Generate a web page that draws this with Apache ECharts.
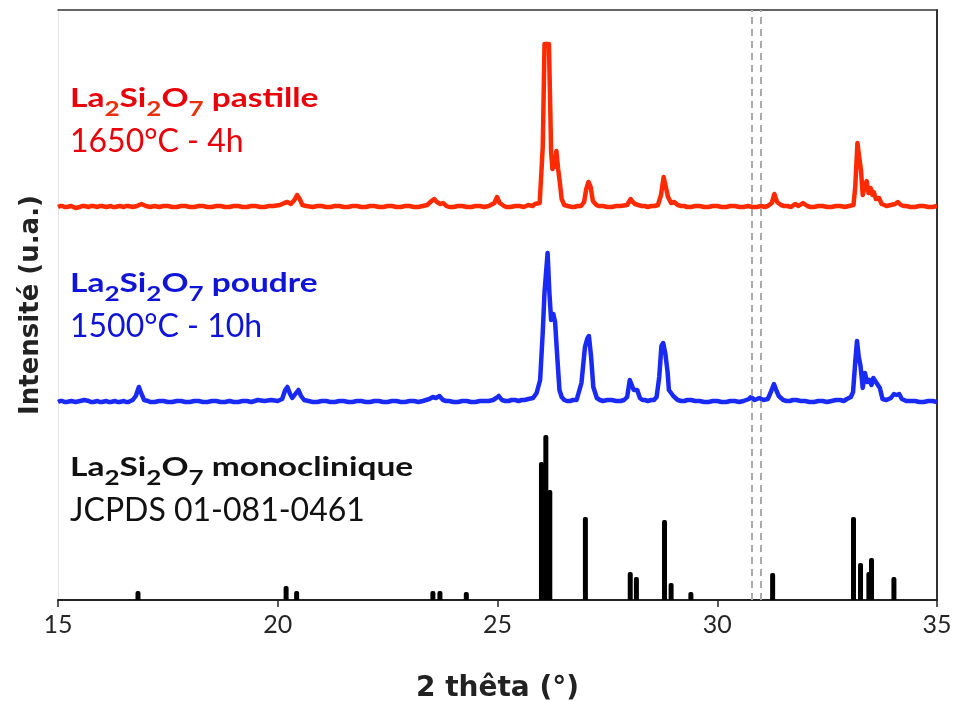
<!DOCTYPE html>
<html><head><meta charset="utf-8">
<script src="https://cdn.jsdelivr.net/npm/echarts@6/dist/echarts.min.js"></script>
<style>html,body{margin:0;padding:0;background:#fff}#c{width:956px;height:701px}</style>
</head><body><div id="c"></div>
<script>
// 2θ range
const xMin = 15, xMax = 35, xStep = 5;
// vertical offsets of the stacked patterns (a.u.)
const offsetPastille = 393;
const offsetPoudre = 198;
const yMax = 590;
// dashed reference positions (2θ)
const dashedLines = [30.79, 31.0];

// La2Si2O7 pastille 1650°C - 4h  [2θ, relative intensity]
const pastille = [
[15.0,0],[15.05,1],[15.1,1],[15.15,0],[15.2,0],[15.3,1],[15.35,0],[15.4,-1],[15.5,0],[15.55,1],[15.6,1],[15.7,0],[15.75,1],[15.8,1],[15.9,0],[15.95,1],[16.0,1],[16.1,0],[16.2,1],[16.25,0],[16.3,0],[16.4,1],[16.5,0],[16.55,1],[16.6,1],[16.7,0],[16.8,1],[16.9,3],[17.0,1],[17.1,0],[17.2,1],[17.3,0],[17.4,1],[17.5,1],[17.6,0],[17.7,0],[17.8,1],[17.9,1],[18.0,0],[18.1,0],[18.2,1],[18.3,1],[18.4,0],[18.5,0],[18.6,1],[18.7,1],[18.8,0],[18.9,0],[19.0,1],[19.1,1],[19.2,0],[19.3,0],[19.4,1],[19.5,1],[19.6,0],[19.7,0],[19.8,1],[19.9,1],
[20.05,2],[20.15,4],[20.22,5],[20.3,3],[20.38,7],[20.44,12],[20.5,8],[20.56,2],[20.65,1],[20.8,0],[20.9,1],[21.0,1],[21.1,0],[21.2,0],[21.3,1],[21.4,1],[21.5,0],[21.6,0],[21.7,1],[21.8,1],[21.9,0],[22.0,0],[22.1,1],[22.2,1],[22.3,0],[22.4,0],[22.5,1],[22.6,1],[22.7,0],[22.8,0],[22.9,1],[23.0,1],[23.1,0],[23.2,0],[23.3,1],[23.4,2],[23.5,6],[23.56,8],[23.62,5],[23.7,3],[23.76,4],[23.84,1],[23.9,0],[24.0,0],[24.1,1],[24.2,1],[24.3,0],[24.4,0],[24.5,1],[24.6,1],[24.7,0],[24.8,1],[24.93,4],[24.99,10],[25.05,4],[25.15,1],[25.2,0],[25.3,0],[25.4,1],[25.5,1],[25.6,0],[25.7,2],[25.8,1],[25.85,3],[25.96,4],
[26.03,60],[26.07,163],[26.17,163],[26.2,100],[26.22,55],[26.25,38],[26.28,36],[26.31,42],[26.34,56],[26.38,38],[26.42,24],[26.46,8],[26.52,2],[26.6,1],[26.7,0],[26.75,0],[26.82,1],[26.9,1],[26.97,5],[27.02,18],[27.07,25],[27.12,20],[27.17,6],[27.25,2],[27.3,1],[27.4,1],[27.5,0],[27.6,0],[27.7,1],[27.8,1],[27.95,2],[28.03,8],[28.08,5],[28.13,3],[28.2,2],[28.28,1],[28.35,1],[28.42,0],[28.5,1],[28.58,1],[28.65,2],[28.72,12],[28.78,30],[28.82,28],[28.88,10],[28.95,4],[29.02,5],[29.1,2],[29.18,1],[29.25,1],[29.32,0],[29.4,0],[29.5,1],[29.6,1],[29.7,0],[29.8,0],[29.9,1],
[30.0,1],[30.1,0],[30.2,0],[30.3,1],[30.4,1],[30.5,0],[30.6,0],[30.7,1],[30.8,0],[30.9,0],[31.0,1],[31.08,0],[31.15,1],[31.24,4],[31.3,13],[31.36,5],[31.45,2],[31.52,1],[31.6,1],[31.68,0],[31.77,3],[31.85,1],[31.95,4],[32.05,1],[32.12,0],[32.2,0],[32.3,1],[32.4,1],[32.5,0],[32.6,0],[32.7,1],[32.8,1],[32.9,0],[33.0,1],[33.1,2],[33.14,20],[33.19,64],[33.23,50],[33.27,37],[33.31,12],[33.35,20],[33.4,26],[33.44,14],[33.49,19],[33.53,12],[33.56,15],[33.61,8],[33.68,9],[33.74,3],[33.8,2],[33.85,1],[33.95,2],[34.05,3],[34.11,5],[34.18,2],[34.24,1],[34.3,1],[34.4,0],[34.5,0],[34.6,1],[34.7,1],[34.8,0],[34.9,0],[35.0,1]
];

// La2Si2O7 poudre 1500°C - 10h  [2θ, relative intensity]
const poudre = [
[15.0,0],[15.05,1],[15.1,1],[15.15,0],[15.2,0],[15.3,1],[15.4,0],[15.5,1],[15.6,2],[15.7,1],[15.75,0],[15.8,0],[15.9,1],[15.95,0],[16.0,0],[16.1,1],[16.15,0],[16.2,0],[16.3,1],[16.35,0],[16.4,0],[16.5,1],[16.55,0],[16.6,0],[16.7,2],[16.77,6],[16.84,15],[16.9,8],[16.96,2],[17.05,1],[17.1,0],[17.2,0],[17.3,1],[17.4,1],[17.5,0],[17.6,0],[17.7,1],[17.8,1],[17.9,0],[18.0,0],[18.1,1],[18.2,1],[18.3,0],[18.4,0],[18.5,1],[18.6,1],[18.7,0],[18.8,0],[18.9,1],[19.0,0],[19.1,0],[19.2,1],[19.3,1],[19.4,0],[19.55,2],[19.7,1],[19.85,2],
[20.0,1],[20.1,3],[20.17,12],[20.22,15],[20.28,8],[20.33,4],[20.4,8],[20.47,12],[20.53,6],[20.6,2],[20.7,1],[20.8,0],[20.9,0],[21.0,1],[21.1,1],[21.2,0],[21.3,0],[21.4,1],[21.5,1],[21.6,0],[21.7,0],[21.8,1],[21.9,1],[22.0,0],[22.1,0],[22.2,1],[22.3,1],[22.4,0],[22.5,0],[22.6,1],[22.7,1],[22.8,0],[22.9,0],[23.0,1],[23.1,1],[23.2,0],[23.3,1],[23.45,3],[23.53,5],[23.6,4],[23.68,6],[23.76,2],[23.83,1],[23.9,1],[24.0,0],[24.1,0],[24.2,1],[24.3,1],[24.4,0],[24.5,0],[24.6,1],[24.7,1],[24.8,1],[24.9,2],[24.97,4],[25.03,6],[25.1,2],[25.18,1],[25.25,1],[25.32,2],[25.4,2],[25.48,1],[25.55,2],[25.62,2],[25.7,3],[25.81,4],[25.89,9],[25.97,22],
[26.03,70],[26.07,110],[26.14,149],[26.18,110],[26.22,82],[26.27,88],[26.31,80],[26.36,45],[26.41,12],[26.46,5],[26.52,2],[26.58,1],[26.65,1],[26.72,2],[26.8,2],[26.91,19],[26.99,55],[27.04,63],[27.08,66],[27.13,45],[27.18,15],[27.26,4],[27.33,2],[27.4,1],[27.5,2],[27.6,2],[27.7,1],[27.8,1],[27.88,2],[27.95,5],[28.01,22],[28.05,24],[28.1,12],[28.14,10],[28.18,12],[28.24,4],[28.3,2],[28.35,2],[28.42,1],[28.5,2],[28.56,2],[28.62,5],[28.68,25],[28.73,56],[28.77,59],[28.82,48],[28.87,30],[28.9,12],[28.94,11],[29.0,6],[29.1,2],[29.18,1],[29.25,1],[29.32,2],[29.4,2],[29.5,1],[29.6,1],[29.7,0],[29.8,0],[29.9,1],
[30.0,1],[30.1,0],[30.2,0],[30.3,1],[30.4,1],[30.5,0],[30.6,1],[30.72,3],[30.77,5],[30.85,2],[30.96,4],[31.05,2],[31.15,3],[31.22,10],[31.29,18],[31.35,11],[31.4,6],[31.5,2],[31.58,1],[31.65,1],[31.72,2],[31.8,2],[31.9,1],[32.0,1],[32.1,0],[32.2,0],[32.3,1],[32.4,1],[32.5,0],[32.6,1],[32.7,2],[32.8,2],[32.88,1],[32.95,3],[33.04,5],[33.09,10],[33.14,40],[33.18,61],[33.22,45],[33.26,36],[33.31,14],[33.36,29],[33.41,20],[33.46,22],[33.51,17],[33.55,24],[33.59,25],[33.64,18],[33.7,14],[33.76,3],[33.85,2],[33.95,4],[34.02,8],[34.08,7],[34.14,8],[34.2,3],[34.3,1],[34.4,1],[34.5,1],[34.6,0],[34.7,0],[34.8,1],[34.9,1],[35.0,0]
];

// JCPDS 01-081-0461 reference peaks [2θ, intensity]
const jcpds = [
[16.82,9],[20.19,14],[20.43,9],[23.53,9],[23.69,9],[24.29,8],
[26.00,138],[26.10,165],[26.19,110],[27.00,83],[28.02,28],[28.16,23],[28.80,80],[28.95,17],[29.40,8],
[31.26,27],[33.10,83],[33.26,37],[33.45,28],[33.51,42],[34.02,23]
];

const FONT = 'Lato, "Open Sans", sans-serif';
const WIDE = '"DejaVu Sans", sans-serif';
const shift = (arr, off) => arr.map(p => [p[0], p[1] + off]);

function label(left, top, color, name, line2, subColor) {
  return [
    { type: 'text', left: left, top: top, scaleX: 1.24, style: {
      text: '{b|La}{s|2}{b|Si}{s|2}{b|O}{s|7}{b| ' + name + '}',
      rich: {
        b: { fontFamily: FONT, fontWeight: 'bold', fontSize: 27, fill: color, lineHeight: 42, verticalAlign: 'middle' },
        s: { fontFamily: FONT, fontWeight: 'bold', fontSize: 21, fill: subColor, verticalAlign: 'bottom' }
      }
    }},
    { type: 'text', left: left, top: top + 41, style: {
      text: line2, fontFamily: FONT, fontSize: 32, fill: color
    }}
  ];
}

const chart = echarts.init(document.getElementById('c'), null, { renderer: 'canvas' });
chart.setOption({
  animation: false,
  backgroundColor: '#fff',
  grid: { left: 58, right: 19, top: 10, bottom: 101, containLabel: false, outerBoundsMode: 'none' },
  xAxis: [{
    type: 'value', min: xMin, max: xMax, interval: xStep,
    name: '2 thêta (°)', nameLocation: 'middle', nameGap: 75,
    nameTextStyle: { fontFamily: WIDE, fontWeight: 'bold', fontSize: 28, color: '#222' },
    axisLine: { show: true, onZero: false, lineStyle: { color: '#222', width: 2 } },
    axisTick: { show: true, length: 7, lineStyle: { color: '#222', width: 1.5 } },
    axisLabel: { fontFamily: FONT, fontSize: 25, color: '#262626', margin: 12 },
    splitLine: { show: false }
  }, {
    type: 'value', min: xMin, max: xMax, position: 'top',
    axisLine: { show: true, onZero: false, lineStyle: { color: '#333', width: 1.5 } },
    axisTick: { show: false }, axisLabel: { show: false }, splitLine: { show: false }
  }],
  yAxis: [{
    type: 'value', min: 0, max: yMax,
    name: 'Intensité (u.a.)', nameLocation: 'middle', nameGap: 14,
    nameTextStyle: { fontFamily: WIDE, fontWeight: 'bold', fontSize: 26, color: '#222' },
    axisLine: { show: true, onZero: false, lineStyle: { color: '#e6e6e6', width: 1 } },
    axisTick: { show: false }, axisLabel: { show: false }, splitLine: { show: false }
  }, {
    type: 'value', min: 0, max: yMax, position: 'right',
    axisLine: { show: true, onZero: false, lineStyle: { color: '#333', width: 2 } },
    axisTick: { show: false }, axisLabel: { show: false }, splitLine: { show: false }
  }],
  series: [
    {
      type: 'bar', name: 'JCPDS', data: jcpds, barWidth: 5, z: 1,
      itemStyle: { color: '#000', borderRadius: [2, 2, 0, 0] },
      markLine: {
        silent: true, symbol: ['none', 'none'], label: { show: false },
        lineStyle: { type: [7, 5], color: '#aaa', width: 2 },
        data: dashedLines.map(v => ({ xAxis: v }))
      }
    },
    {
      type: 'line', name: 'poudre', data: shift(poudre, offsetPoudre), showSymbol: false, z: 3,
      lineStyle: { color: '#1a2af5', width: 4.5, join: 'round' }
    },
    {
      type: 'line', name: 'pastille', data: shift(pastille, offsetPastille), showSymbol: false, z: 3,
      lineStyle: { color: '#ff2a00', width: 4.5, join: 'round' }
    }
  ],
  graphic: [].concat(
    label(70, 85, '#e8000a', 'pastille', '1650°C - 4h', '#e8300a'),
    label(70, 270, '#0f14d6', 'poudre', '1500°C - 10h', '#0f14d6'),
    label(70, 454, '#111', 'monoclinique', 'JCPDS 01-081-0461', '#111')
  )
});
</script>
</body></html>
